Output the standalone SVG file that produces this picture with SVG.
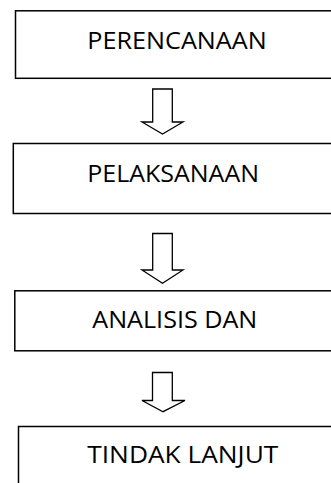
<svg xmlns="http://www.w3.org/2000/svg" width="331" height="483" viewBox="0 0 331 483">
<style>
.box{fill:#fff;stroke:#000;stroke-width:1.5}
.lbl{font-family:"Open Sans","Liberation Sans",sans-serif;font-size:23px;fill:#000}
.arr{fill:#fff;stroke:#000;stroke-width:1.3;stroke-linejoin:miter}
</style>
<rect width="331" height="483" fill="#fff"/>
<g id="connectors">
<path class="arr" d="M152.7,89 H172.3 V122 H183 L162.5,134 L142,122 H152.7 Z"/>
<path class="arr" d="M152.7,233.5 H172.3 V270 H183 L162.5,283.3 L142,270 H152.7 Z"/>
<path class="arr" d="M152.5,372.5 H172.3 V400.5 H185 L163,411.7 L142,400.5 H152.5 Z"/>
</g>
<g id="node1">
<rect class="box" x="15.5" y="10.8" width="330" height="67.5"/>
<text class="lbl" x="87.3" y="48.5" textLength="179.4" lengthAdjust="spacingAndGlyphs">PERENCANAAN</text>
</g>
<g id="node2">
<rect class="box" x="13.3" y="143.5" width="330" height="70"/>
<text class="lbl" x="87.3" y="181.7" textLength="171.7" lengthAdjust="spacingAndGlyphs">PELAKSANAAN</text>
</g>
<g id="node3">
<rect class="box" x="14.8" y="290.8" width="330" height="60"/>
<text class="lbl" x="92.3" y="328.3" textLength="165" lengthAdjust="spacingAndGlyphs">ANALISIS DAN</text>
</g>
<g id="node4">
<rect class="box" x="18.5" y="426.5" width="330" height="80"/>
<text class="lbl" x="87.3" y="463.3" textLength="191" lengthAdjust="spacingAndGlyphs">TINDAK LANJUT</text>
</g>
</svg>
